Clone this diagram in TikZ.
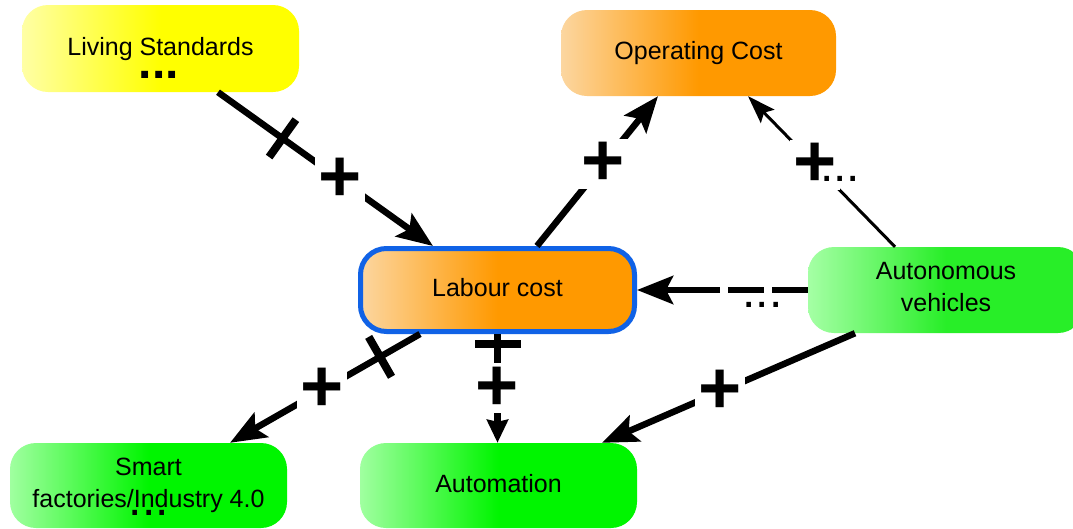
\documentclass[tikz,border=0pt]{standalone}
\usepackage{fontspec}
\setmainfont{Liberation Sans}
\usetikzlibrary{arrows.meta}
\definecolor{yelL}{RGB}{255,255,165}
\definecolor{yelR}{RGB}{255,255,0}
\definecolor{orL}{RGB}{252,214,160}
\definecolor{orR}{RGB}{255,153,0}
\definecolor{grL}{RGB}{160,255,160}
\definecolor{grR}{RGB}{0,245,0}
\definecolor{grL2}{RGB}{165,255,165}
\definecolor{grR2}{RGB}{40,238,40}
\definecolor{lcblue}{RGB}{16,98,230}
\begin{document}
\begin{tikzpicture}[x=1pt,y=-1pt,
  box/.style={rounded corners=26pt, inner sep=0pt, align=center, text=black,
    font=\fontsize{25}{32}\selectfont},
  oneline/.style={text height=18pt, text depth=5pt},
  yelbox/.style={box, left color=yelL, right color=yelR, middle color=yelR},
  orbox/.style={box, left color=orL, right color=orR, middle color=orR},
  grbox/.style={box, left color=grL, right color=grR, middle color=grR},
  grboxb/.style={box, left color=grL2, right color=grR2, middle color=grR2},
  link/.style={line width=6.5pt, -{Stealth[length=36pt,width=28pt,inset=7pt]}},
  thinlink/.style={line width=3pt, -{Stealth[length=28pt,width=19pt,inset=5pt]}},
  shortlink/.style={line width=6.5pt, -{Stealth[length=23pt,width=21pt,inset=2pt]}},
  plus/.style={fill=white, inner sep=0pt, minimum size=50pt, text=black,
    font=\fontsize{74}{74}\selectfont\bfseries},
  delay/.style={sloped, fill=black, inner sep=0pt, minimum width=8pt, minimum height=46pt},
  dots/.style={inner sep=0pt, text=black, font=\fontsize{48}{48}\selectfont},
]
\useasboundingbox (0,0) rectangle (1073,528);
\fill[white] (0,0) rectangle (1073,528);

% boxes
\node[yelbox, oneline, minimum width=277pt, minimum height=87pt] (ls) at (160.5,48.5) {Living Standards};
\node[dots, font=\fontsize{48}{48}\selectfont\bfseries] (lsd) at (159,75) {...};
\node[orbox, oneline, minimum width=275pt, minimum height=86pt] (oc) at (698.5,53) {Operating Cost};
\node[orbox, oneline, draw=lcblue, line width=5pt, minimum width=274pt, minimum height=83pt] (lc) at (497.5,290) {Labour cost};
\node[grboxb, text depth=6pt, minimum width=276pt, minimum height=86pt] (av) at (946,290) {Autonomous\\vehicles};
\node[grbox, minimum width=277pt, minimum height=85pt] (sf) at (148.5,485.5) {Smart\\factories/Industry 4.0};
\node[dots] (sfd) at (149,513) {...};
\node[grbox, oneline, minimum width=277pt, minimum height=85pt] (au) at (498.5,485.5) {Automation};

% connectors
\draw[link] ([xshift=57.5pt]ls.south) -- node[delay, pos=0.3] {} node[plus, pos=0.567] (p1) {+} ([xshift=-64.5pt]lc.north);
\draw[link] ([xshift=39.5pt]lc.north) -- node[plus, pos=0.547] (p2) {+} ([xshift=-40.5pt]oc.south);
\draw[thinlink] ([xshift=-51pt]av.north) -- node[plus, pos=0.544] (p3) {+} ([xshift=49.5pt]oc.south);
\node[dots] (p3d) at (840,179) {...};
\draw[link, dash pattern=on 36pt off 8pt on 36pt off 8pt on 300pt] (av.west) -- (lc.east);
\node[dots] (p4d) at (762.5,305) {...};
\draw[link] ([xshift=-77.5pt]lc.south) -- node[delay, pos=0.21] {} node[plus, pos=0.516] (p5) {+} ([xshift=81.5pt]sf.north);
\draw[shortlink] (lc.south) -- node[delay, pos=0.09] {} node[plus, pos=0.50] (p6) {+} (lc.south |- au.north);
\draw[link] ([xshift=-91pt]av.south) -- node[plus, pos=0.534] (p7) {+} ([xshift=103.5pt]au.north);
\end{tikzpicture}
\end{document}
